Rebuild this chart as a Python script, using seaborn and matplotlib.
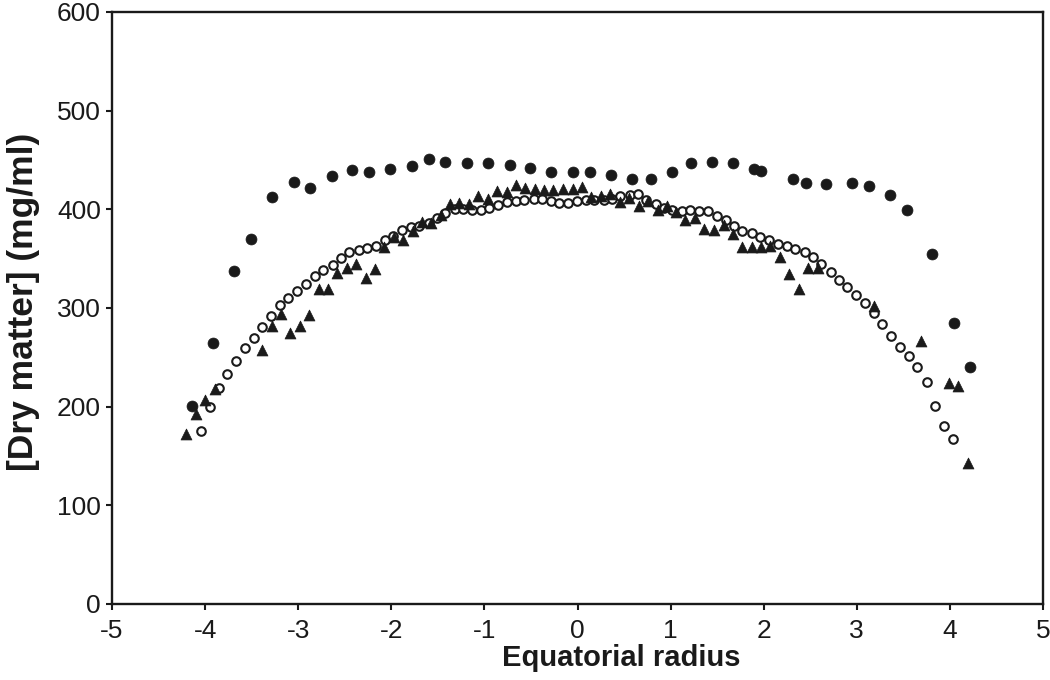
import numpy as np
import pandas as pd
import matplotlib
matplotlib.use("Agg")
import matplotlib.pyplot as plt
import seaborn as sns

# filled circles
x_filled = [-4.14, -3.92, -3.69, -3.51, -3.28, -3.05, -2.87, -2.64, -2.42, -2.24,
            -2.01, -1.78, -1.60, -1.42, -1.19, -0.96, -0.73, -0.51, -0.28, -0.05,
            0.13, 0.36, 0.59, 0.79, 1.02, 1.22, 1.45, 1.67, 1.90, 1.97,
            2.31, 2.45, 2.67, 2.95, 3.13, 3.36, 3.54, 3.81, 4.04, 4.22]
y_filled = [201, 264, 337, 370, 412, 428, 422, 434, 440, 438,
            441, 444, 451, 448, 447, 447, 445, 442, 438, 438,
            438, 435, 431, 431, 438, 447, 448, 447, 441, 439,
            431, 427, 426, 427, 424, 415, 399, 355, 285, 240]

# open circles
x_open = [-4.04, -3.95, -3.85, -3.76, -3.67, -3.57, -3.48, -3.39, -3.29, -3.20,
          -3.11, -3.01, -2.92, -2.82, -2.73, -2.63, -2.54, -2.45, -2.35, -2.26,
          -2.16, -2.07, -1.98, -1.89, -1.79, -1.70, -1.60, -1.51, -1.42, -1.32,
          -1.23, -1.13, -1.04, -0.95, -0.85, -0.76, -0.66, -0.57, -0.47, -0.38,
          -0.29, -0.20, -0.10, -0.01, 0.09, 0.18, 0.28, 0.37, 0.46, 0.56,
          0.65, 0.74, 0.84, 0.93, 1.02, 1.12, 1.21, 1.31, 1.40, 1.50,
          1.59, 1.68, 1.77, 1.87, 1.96, 2.06, 2.15, 2.25, 2.34, 2.44,
          2.53, 2.62, 2.72, 2.81, 2.90, 2.99, 3.09, 3.18, 3.27, 3.37,
          3.46, 3.56, 3.65, 3.75, 3.84, 3.94, 4.03]
y_open = [175, 200, 219, 233, 246, 259, 270, 281, 292, 303,
          310, 317, 324, 332, 338, 344, 351, 357, 359, 361,
          363, 369, 373, 379, 382, 383, 386, 391, 396, 400,
          400, 399, 399, 401, 404, 407, 408, 409, 410, 410,
          408, 406, 406, 408, 409, 409, 409, 410, 413, 415,
          416, 409, 405, 401, 399, 398, 399, 398, 398, 393,
          389, 383, 378, 376, 372, 369, 365, 363, 360, 357,
          352, 345, 336, 328, 321, 313, 305, 295, 284, 272,
          260, 251, 240, 225, 201, 180, 167]

# triangles
x_tri = [-4.21, -4.10, -4.00, -3.89, -3.39, -3.28, -3.18, -3.09, -2.98, -2.88,
         -2.78, -2.68, -2.58, -2.48, -2.38, -2.27, -2.18, -2.08, -1.97, -1.87,
         -1.77, -1.67, -1.57, -1.47, -1.37, -1.27, -1.17, -1.07, -0.96, -0.86,
         -0.76, -0.66, -0.56, -0.46, -0.36, -0.26, -0.16, -0.05, 0.05, 0.15,
         0.25, 0.35, 0.46, 0.55, 0.66, 0.76, 0.86, 0.96, 1.06, 1.16,
         1.26, 1.36, 1.47, 1.57, 1.67, 1.77, 1.87, 1.97, 2.07, 2.17,
         2.27, 2.38, 2.48, 2.58, 3.18, 3.69, 3.99, 4.09, 4.19]
y_tri = [172, 193, 207, 218, 257, 282, 294, 275, 282, 293,
         319, 319, 335, 341, 345, 330, 340, 362, 372, 369,
         378, 387, 386, 394, 405, 406, 405, 413, 410, 419,
         418, 425, 422, 421, 420, 420, 421, 421, 423, 412,
         413, 416, 407, 411, 403, 408, 399, 403, 397, 389,
         391, 380, 379, 384, 375, 362, 362, 362, 363, 352,
         334, 319, 341, 341, 302, 267, 224, 221, 143]

xticks = [-5, -4, -3, -2, -1, 0, 1, 2, 3, 4, 5]
yticks = [0, 100, 200, 300, 400, 500, 600]

sns.set_theme(style="ticks")
plt.rcParams['font.family'] = ['Liberation Sans', 'DejaVu Sans']

df_filled = pd.DataFrame({'radius': x_filled, 'dm': y_filled})
df_open = pd.DataFrame({'radius': x_open, 'dm': y_open})
df_tri = pd.DataFrame({'radius': x_tri, 'dm': y_tri})

fig = plt.figure(figsize=(10.5, 6.8), dpi=100)
ax = fig.add_axes([0.1067, 0.1118, 0.8866, 0.8706])

ink = '#1a1a1a'
sns.scatterplot(data=df_filled, x='radius', y='dm', marker='o', s=62,
                color=ink, edgecolor=ink, linewidth=0.5, ax=ax, zorder=3)
sns.scatterplot(data=df_open, x='radius', y='dm', marker='o', s=38,
                facecolor='white', edgecolor=ink, linewidth=1.5, ax=ax, zorder=3)
sns.scatterplot(data=df_tri, x='radius', y='dm', marker='^', s=62,
                color=ink, edgecolor=ink, linewidth=0.5, ax=ax, zorder=4)

ax.set_xlim(-5, 5)
ax.set_ylim(0, 600)
ax.set_xticks(xticks)
ax.set_yticks(yticks)
ax.set_xticklabels([str(t) for t in xticks])
for sp in ax.spines.values():
    sp.set_visible(True)
    sp.set_linewidth(1.7)
    sp.set_color(ink)
ax.tick_params(direction='out', length=4, width=1.5, color=ink,
               labelsize=19, labelcolor=ink)
ax.tick_params(axis='x', pad=7)
ax.tick_params(axis='y', pad=4)
ax.set_xlabel("Equatorial radius", fontsize=21, fontweight='bold', color=ink)
ax.set_ylabel("[Dry matter] (mg/ml)", fontsize=25.5, fontweight='bold', color=ink)
ax.xaxis.set_label_coords(0.5467, -0.068)
ax.yaxis.set_label_coords(-0.077, 0.51)

fig.savefig("out.png", dpi=100)
